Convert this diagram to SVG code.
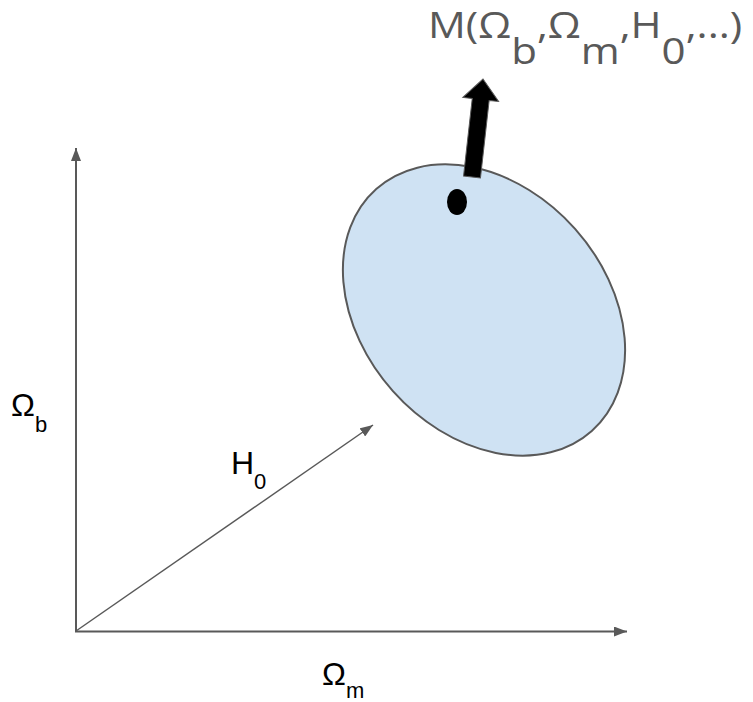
<svg xmlns="http://www.w3.org/2000/svg" width="753" height="702" viewBox="0 0 753 702">
<defs>
<marker id="ah" markerUnits="userSpaceOnUse" markerWidth="14" markerHeight="10" refX="13" refY="5" orient="auto">
<path d="M0,0 L13,5 L0,10 z" fill="#595959"/>
</marker>
<style>
.ax{stroke:#595959;stroke-width:2;fill:none}
.lbl{font-family:"Liberation Sans",Arial,sans-serif;font-size:32px;fill:#000}
.sub{font-size:22px}
.top{font-family:"Open Sans","Liberation Sans",sans-serif;font-size:36px;fill:#595959}
</style>
</defs>
<rect width="753" height="702" fill="#fff"/>
<g id="connectors">
<line class="ax" x1="76" y1="632" x2="76" y2="148" marker-end="url(#ah)"/>
<line class="ax" x1="75" y1="631.5" x2="627" y2="631.5" marker-end="url(#ah)"/>
<line class="ax" x1="76" y1="631" x2="373" y2="425" style="stroke-width:1.5" marker-end="url(#ah)"/>
</g>
<g id="region">
<ellipse cx="484" cy="310" rx="162" ry="122" transform="rotate(48.3 484 310)" fill="#cfe2f3" stroke="#595959" stroke-width="2"/>
</g>
<g id="point">
<ellipse cx="457" cy="202" rx="10" ry="13" fill="#000"/>
</g>
<g id="bigarrow">
<polygon transform="translate(472 177) rotate(6.4)" points="-8.5,0 -8.5,-78 -18,-78 0,-98.6 18,-78 8.5,-78 8.5,0" fill="#000" stroke="#595959" stroke-width="1"/>
</g>
<g id="label-model">
<text class="top" transform="translate(428 38) scale(1.17 1)">M(Ω<tspan dy="26">b</tspan><tspan dy="-26">,Ω</tspan><tspan dy="26">m</tspan><tspan dy="-26">,H</tspan><tspan dy="26">0</tspan><tspan dy="-26">,...)</tspan></text>
</g>
<g id="label-omega-b">
<text class="lbl" x="11" y="416">Ω<tspan class="sub" dy="16">b</tspan></text>
</g>
<g id="label-h0">
<text class="lbl" x="231" y="474">H<tspan class="sub" dy="15">0</tspan></text>
</g>
<g id="label-omega-m">
<text class="lbl" x="322" y="685">Ω<tspan class="sub" dy="13">m</tspan></text>
</g>
</svg>
